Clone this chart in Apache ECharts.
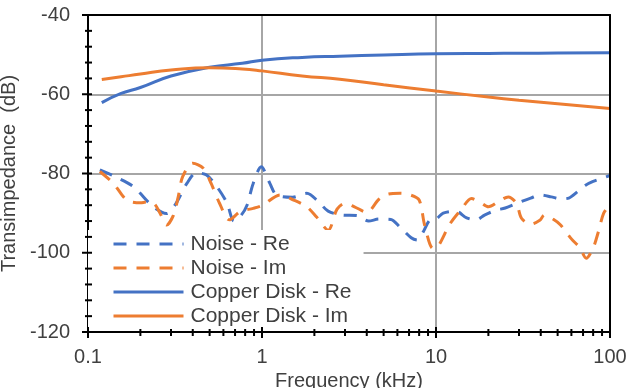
<!DOCTYPE html>
<html>
<head>
<meta charset="utf-8">
<script src="https://cdn.jsdelivr.net/npm/echarts@6/dist/echarts.min.js"></script>
<style>
  html, body { margin: 0; padding: 0; background: #fff; }
  #main { width: 629px; height: 388px; }
</style>
</head>
<body>
<div id="main"></div>
<script>
// 数据
var noiseReFreq = [0.117, 0.14, 0.182, 0.237, 0.283, 0.316, 0.37, 0.42, 0.48, 0.55, 0.63, 0.69, 0.76, 0.82, 0.89, 0.99,
  1.11, 1.21, 1.5, 1.81, 2.1, 2.4, 2.9, 3.5, 4.1, 4.7, 5.5, 6.2, 7.2, 7.8, 8.5, 9.2,
  10, 11, 13, 15, 17, 19, 22, 25, 30, 35, 40, 46, 52, 58, 65, 72, 80, 90, 100];
var noiseReVal = [-79.1, -80.6, -83.3, -88.4, -90.1, -88, -82.5, -79.8, -80.4, -83.3, -87.5, -92, -90.5, -88, -82.5, -78.3,
  -82.5, -85.4, -86, -85, -87, -89.5, -90.5, -90.6, -92, -91.5, -91.6, -93.5, -96.2, -96.8, -94.5, -91.8,
  -91.5, -90, -89.5, -91.2, -91.7, -90.5, -89.3, -88.7, -87.3, -86.2, -85.4, -85.9, -86.4, -86.2, -84.6, -83, -82, -81.2, -80.5];

var noiseImFreq = [0.117, 0.14, 0.167, 0.2, 0.217, 0.24, 0.26, 0.283, 0.31, 0.33, 0.35, 0.4, 0.46, 0.51, 0.57, 0.65, 0.75, 0.89,
  1.01, 1.27, 1.52, 1.81, 2.06, 2.4, 2.7, 3.0, 3.4, 4.0, 4.7, 5.3, 6.2, 7.0, 8, 8.6, 9.6,
  10.3, 12, 14, 16, 18, 20, 23, 26, 29, 31, 35, 39.5, 42, 47, 52, 60, 67, 73, 80, 86, 92, 100];
var noiseImVal = [-79.5, -82.5, -86.7, -87.4, -87.2, -87.6, -90.1, -93, -90.5, -85.9, -80.8, -77.4, -78.7, -82.5, -87.5, -91.7, -89.6, -88.8,
  -88, -85.4, -86.7, -88.4, -91, -94.3, -89, -87.5, -88.4, -89.8, -86.5, -85.2, -85, -85.3, -86.7, -93, -98.9,
  -98.3, -92.8, -89, -86.3, -87.3, -88.4, -87, -85.9, -87.5, -91.3, -92.8, -91.8, -90.5, -91.5, -93, -96.5, -98.7, -101.4, -98.8, -94.5, -90, -88];

var copperFreq = [0.12, 0.155, 0.2, 0.3, 0.5, 0.77, 1, 1.7, 2.8, 5, 10, 20, 30, 50, 100];
var copperReVal = [-62.1, -59.8, -58.3, -55.4, -53.2, -52.2, -51.4, -50.7, -50.4, -50.1, -49.8, -49.7, -49.65, -49.6, -49.5];
var copperImVal = [-56.3, -55.6, -54.9, -53.9, -53.3, -53.6, -54.1, -55.4, -56.2, -57.6, -59.2, -60.7, -61.5, -62.4, -63.6];

var seriesNames = ['Noise - Re', 'Noise - Im', 'Copper Disk - Re', 'Copper Disk - Im'];
var xMajorTicks = [0.1, 1, 10, 100];
var yMin = -120, yMax = -40, yStep = 20, yMinorStep = 4;

var blue = '#4472C4', orange = '#ED7D31';
var font = 'Liberation Sans, Arial, sans-serif';

function pairs(xs, ys) {
  return xs.map(function (x, i) { return [x, ys[i]]; });
}

// 刻度（对数轴的次刻度 2..9）
var xTickData = [];
xMajorTicks.forEach(function (d, i) {
  xTickData.push([d, 1]);
  if (i < xMajorTicks.length - 1) {
    for (var k = 2; k <= 9; k++) xTickData.push([d * k, 0]);
  }
});
var yTickData = [];
for (var v = yMin; v <= yMax; v += yMinorStep) {
  yTickData.push([xMajorTicks[0], v, v % yStep === 0 ? 1 : 0]);
}

var myChart = echarts.init(document.getElementById('main'));

var option = {
  animation: false,
  backgroundColor: '#fff',
  grid: { left: 88, right: 19, top: 15, bottom: 56, containLabel: false, outerBoundsMode: 'none' },
  legend: {
    data: seriesNames,
    orient: 'vertical',
    left: 88,
    top: 230,
    padding: [2, 12, 0, 24],
    itemWidth: 70,
    itemHeight: 14,
    itemGap: 0,
    backgroundColor: '#fff',
    itemStyle: { opacity: 0 },
    lineStyle: { width: 3 },
    textStyle: { fontFamily: font, fontSize: 21, lineHeight: 24, color: '#404040', padding: [0, 0, 0, 2] }
  },
  xAxis: [{
    type: 'log',
    logBase: 10,
    min: 0.1,
    max: 100,
    name: 'Frequency (kHz)',
    nameLocation: 'middle',
    nameGap: 33,
    nameTextStyle: { fontFamily: font, fontSize: 20, color: '#404040' },
    axisLine: { lineStyle: { color: '#000', width: 2 } },
    axisTick: { show: false },
    axisLabel: { fontFamily: font, fontSize: 20, color: '#404040', margin: 15 },
    splitLine: { show: true, lineStyle: { color: '#A6A6A6', width: 2 } }
  }, {
    type: 'log',
    logBase: 10,
    min: 0.1,
    max: 100,
    position: 'top',
    z: 5,
    axisLine: { lineStyle: { color: '#000', width: 2 } },
    axisTick: { show: false },
    axisLabel: { show: false },
    splitLine: { show: false }
  }],
  yAxis: [{
    type: 'value',
    min: yMin,
    max: yMax,
    interval: yStep,
    name: 'Transimpedance  (dB)',
    nameLocation: 'middle',
    nameGap: 56,
    nameTextStyle: { fontFamily: font, fontSize: 20, color: '#404040' },
    axisLine: { show: true, lineStyle: { color: '#000', width: 2 } },
    axisTick: { show: false },
    axisLabel: { fontFamily: font, fontSize: 20, color: '#404040', margin: 18 },
    splitLine: { show: true, lineStyle: { color: '#A6A6A6', width: 2 } }
  }, {
    type: 'value',
    min: yMin,
    max: yMax,
    interval: yStep,
    position: 'right',
    z: 5,
    axisLine: { show: true, lineStyle: { color: '#000', width: 2 } },
    axisTick: { show: false },
    axisLabel: { show: false },
    splitLine: { show: false }
  }],
  series: [
    {
      name: 'Noise - Re', type: 'line', symbol: 'none', smooth: 0.3,
      data: pairs(noiseReFreq, noiseReVal),
      lineStyle: { color: blue, width: 3, type: [13, 10] },
      itemStyle: { color: blue }
    },
    {
      name: 'Noise - Im', type: 'line', symbol: 'none', smooth: 0.3,
      data: pairs(noiseImFreq, noiseImVal),
      lineStyle: { color: orange, width: 3, type: [13, 10] },
      itemStyle: { color: orange }
    },
    {
      name: 'Copper Disk - Re', type: 'line', symbol: 'none', smooth: true,
      data: pairs(copperFreq, copperReVal),
      lineStyle: { color: blue, width: 3 },
      itemStyle: { color: blue }
    },
    {
      name: 'Copper Disk - Im', type: 'line', symbol: 'none', smooth: true,
      data: pairs(copperFreq, copperImVal),
      lineStyle: { color: orange, width: 3 },
      itemStyle: { color: orange }
    },
    {
      // x 轴刻度（穿过轴线）
      type: 'custom', silent: true, clip: false, z: 6,
      data: xTickData,
      renderItem: function (params, api) {
        var p = api.coord([api.value(0), yMin]);
        var major = api.value(1) === 1;
        return {
          type: 'line',
          shape: { x1: p[0], y1: p[1] - (major ? 5 : 3), x2: p[0], y2: p[1] + (major ? 6 : 4) },
          style: { stroke: '#000', lineWidth: 2 }
        };
      }
    },
    {
      // y 轴刻度
      type: 'custom', silent: true, clip: false, z: 6,
      data: yTickData,
      renderItem: function (params, api) {
        var p = api.coord([api.value(0), api.value(1)]);
        var major = api.value(2) === 1;
        return {
          type: 'line',
          shape: { x1: p[0] - (major ? 6 : 3), y1: p[1], x2: p[0] + 4, y2: p[1] },
          style: { stroke: '#000', lineWidth: 2 }
        };
      }
    }
  ]
};

myChart.setOption(option);
</script>
</body>
</html>
